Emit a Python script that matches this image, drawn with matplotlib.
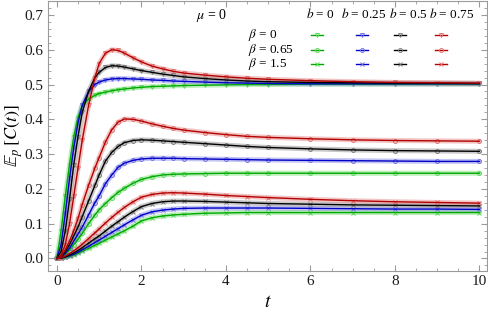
import matplotlib
matplotlib.use("Agg")
import matplotlib.pyplot as plt
from matplotlib.ticker import MultipleLocator

plt.rcParams['mathtext.fontset'] = 'stix'
plt.rcParams['font.family'] = ['Liberation Serif', 'DejaVu Serif']

t = [0, 0.1, 0.2, 0.3, 0.4, 0.5, 0.6, 0.75, 0.9, 1.0, 1.15, 1.3, 1.45, 1.6, 1.8,
     2.0, 2.25, 2.5, 2.75, 3.0, 3.5, 4.0, 4.5, 5.0, 6.0, 7.0, 8.0, 9.0, 10.0]

b_values = ["0", "0.25", "0.5", "0.75"]
beta_values = ["0", "0.65", "1.5"]

# beta = 0
beta0_b0 = [0, 0.08, 0.18, 0.27, 0.35, 0.405, 0.44, 0.458, 0.469, 0.474, 0.478, 0.482, 0.485, 0.487, 0.49,
            0.492, 0.494, 0.495, 0.496, 0.497, 0.498, 0.499, 0.5, 0.5, 0.501, 0.501, 0.501, 0.501, 0.501]
beta0_b025 = [0, 0.04, 0.13, 0.23, 0.32, 0.39, 0.44, 0.48, 0.5, 0.507, 0.513, 0.516, 0.517, 0.517, 0.516,
              0.515, 0.513, 0.512, 0.51, 0.509, 0.507, 0.505, 0.504, 0.503, 0.502, 0.502, 0.502, 0.502, 0.502]
beta0_b05 = [0, 0.02, 0.08, 0.17, 0.27, 0.35, 0.42, 0.48, 0.52, 0.535, 0.549, 0.554, 0.553, 0.55, 0.545,
             0.54, 0.535, 0.53, 0.526, 0.522, 0.517, 0.513, 0.51, 0.508, 0.506, 0.505, 0.504, 0.504, 0.503]
beta0_b075 = [0, 0.01, 0.04, 0.1, 0.18, 0.26, 0.34, 0.44, 0.52, 0.56, 0.59, 0.6, 0.598, 0.59, 0.577,
              0.565, 0.553, 0.545, 0.538, 0.533, 0.527, 0.522, 0.518, 0.515, 0.511, 0.508, 0.506, 0.505, 0.504]

# beta = 0.65
beta065_b0 = [0, 0.003, 0.012, 0.025, 0.04, 0.055, 0.072, 0.1, 0.125, 0.14, 0.158, 0.175, 0.19, 0.202, 0.216,
              0.227, 0.235, 0.24, 0.242, 0.243, 0.244, 0.245, 0.245, 0.245, 0.245, 0.245, 0.245, 0.245, 0.245]
beta065_b025 = [0, 0.004, 0.015, 0.03, 0.05, 0.07, 0.09, 0.125, 0.16, 0.18, 0.215, 0.24, 0.262, 0.274, 0.282,
                0.286, 0.288, 0.288, 0.288, 0.287, 0.286, 0.285, 0.284, 0.283, 0.282, 0.281, 0.28, 0.279, 0.279]
beta065_b05 = [0, 0.005, 0.02, 0.04, 0.065, 0.09, 0.12, 0.165, 0.21, 0.24, 0.28, 0.305, 0.322, 0.333, 0.339,
               0.341, 0.34, 0.338, 0.336, 0.334, 0.33, 0.326, 0.322, 0.319, 0.315, 0.312, 0.31, 0.309, 0.308]
beta065_b075 = [0, 0.006, 0.025, 0.05, 0.08, 0.115, 0.155, 0.21, 0.26, 0.29, 0.335, 0.37, 0.392, 0.401, 0.4,
                0.395, 0.387, 0.38, 0.374, 0.369, 0.362, 0.356, 0.351, 0.348, 0.344, 0.341, 0.339, 0.338, 0.337]

# beta = 1.5
beta15_b0 = [0, 0.001, 0.003, 0.006, 0.01, 0.015, 0.021, 0.029, 0.038, 0.044, 0.053, 0.062, 0.071, 0.08, 0.093,
             0.108, 0.117, 0.122, 0.125, 0.127, 0.13, 0.131, 0.132, 0.132, 0.132, 0.132, 0.132, 0.132, 0.132]
beta15_b025 = [0, 0.001, 0.004, 0.008, 0.012, 0.018, 0.025, 0.035, 0.046, 0.053, 0.064, 0.075, 0.086, 0.097, 0.111,
               0.124, 0.134, 0.139, 0.142, 0.144, 0.145, 0.145, 0.145, 0.145, 0.144, 0.143, 0.142, 0.142, 0.141]
beta15_b05 = [0, 0.001, 0.005, 0.01, 0.016, 0.023, 0.031, 0.044, 0.057, 0.065, 0.079, 0.093, 0.106, 0.119, 0.135,
              0.149, 0.158, 0.163, 0.165, 0.165, 0.164, 0.162, 0.16, 0.158, 0.156, 0.154, 0.153, 0.152, 0.151]
beta15_b075 = [0, 0.002, 0.007, 0.014, 0.022, 0.031, 0.041, 0.057, 0.074, 0.085, 0.102, 0.118, 0.133, 0.147, 0.163,
               0.176, 0.184, 0.188, 0.189, 0.188, 0.185, 0.181, 0.178, 0.175, 0.17, 0.166, 0.163, 0.161, 0.159]

groups = [
    [beta0_b0, beta0_b025, beta0_b05, beta0_b075],
    [beta065_b0, beta065_b025, beta065_b05, beta065_b075],
    [beta15_b0, beta15_b025, beta15_b05, beta15_b075],
]

line_colors = ['#00a800', '#0000c8', '#000000', '#b40000']
band_colors = ['#5ad85a', '#7070e4', '#7a7a7a', '#e07070']
markers = ['v', 'o', 'x']

fig = plt.figure(figsize=(4.88, 3.19), dpi=100)
ax = fig.add_axes([48 / 488, 1 - 271 / 319, (487 - 48) / 488, 270 / 319])

for gi, grp in enumerate(groups):
    for ci, y in enumerate(grp):
        ax.plot(t, y, color=band_colors[ci], lw=3.6, alpha=0.4, solid_capstyle='round', zorder=2)
        mk = markers[gi]
        if mk == 'x':
            ax.plot(t, y, linestyle='none', marker=mk, ms=2.6, mew=0.7, color=band_colors[ci], zorder=3)
        else:
            ax.plot(t, y, linestyle='none', marker=mk, ms=2.8, mew=0.7, mfc='none',
                    mec=band_colors[ci], zorder=3)
        ax.plot(t, y, color=line_colors[ci], lw=1.0, zorder=4)

ax.set_xlim(-0.21, 10.18)
ax.set_ylim(-0.036, 0.74)
ax.xaxis.set_major_locator(MultipleLocator(2))
ax.xaxis.set_minor_locator(MultipleLocator(0.5))
ax.yaxis.set_major_locator(MultipleLocator(0.1))
ax.yaxis.set_minor_locator(MultipleLocator(0.02))
ax.yaxis.set_major_formatter(plt.FuncFormatter(lambda v, p: f"{v:.1f}"))
ax.tick_params(which='both', direction='in', top=True, right=True, color='#9a9a9a',
               labelsize=11, labelcolor='#1a1a1a', pad=3)
ax.tick_params(which='major', length=4, width=0.8)
ax.tick_params(which='minor', length=2, width=0.6)
for s in ax.spines.values():
    s.set_color('#9a9a9a')
    s.set_linewidth(0.8)

ax.set_xlabel(r'$t$', fontsize=14, labelpad=4)
ax.set_ylabel(r'$\mathbb{E}_p\,[C(t)]$', fontsize=13, labelpad=0)

# legend-like annotation
fig.text(211 / 488, 1 - 16 / 319, r'$\mu$ = 0', fontsize=10, ha='center', va='center')
b_left = [306, 341, 389, 429]
for bx, bv in zip(b_left, b_values):
    fig.text(bx / 488, 1 - 14 / 319, r'$b$ = ' + bv, fontsize=9.5, ha='left', va='center')
row_y = [35, 49.5, 64]
marker_x = [317, 362, 400, 441]
for ri, (ry, bv) in enumerate(zip(row_y, beta_values)):
    fig.text(248 / 488, 1 - ry / 319, r'$\beta$ = ' + bv, fontsize=9.5, ha='left', va='center')
    for ci, mx in enumerate(marker_x):
        xs = [(mx - 6) / 488, (mx + 6) / 488]
        ys = [1 - ry / 319] * 2
        fig.add_artist(plt.Line2D(xs, ys, color=line_colors[ci], lw=1.0, transform=fig.transFigure))
        mk = markers[ri]
        if mk == 'x':
            fig.add_artist(plt.Line2D([mx / 488], [1 - ry / 319], marker=mk, ms=2.6, mew=0.7,
                                      color=band_colors[ci], linestyle='none', transform=fig.transFigure))
        else:
            fig.add_artist(plt.Line2D([mx / 488], [1 - ry / 319], marker=mk, ms=2.8, mew=0.7, mfc='none',
                                      mec=band_colors[ci], linestyle='none', transform=fig.transFigure))

fig.savefig('out.png', dpi=100)
